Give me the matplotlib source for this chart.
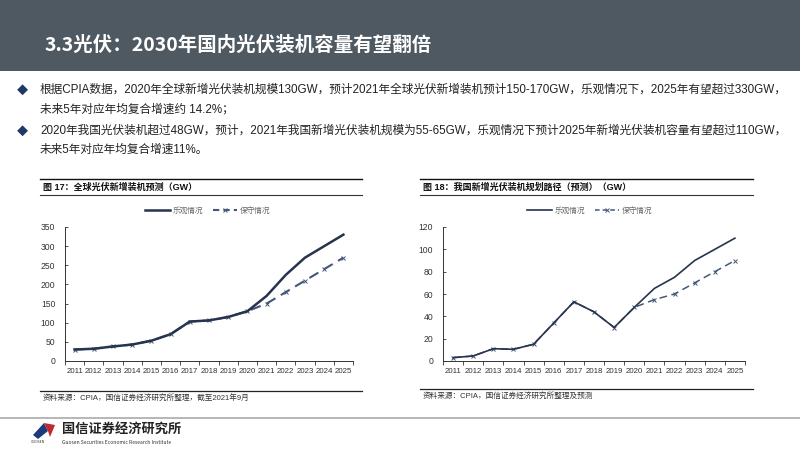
import matplotlib
matplotlib.use("Agg")
import matplotlib.pyplot as plt
from matplotlib.lines import Line2D
from matplotlib.patches import Rectangle, Polygon

plt.rcParams['font.family'] = ['Noto Sans CJK SC', 'DejaVu Sans']
MIXED = ['Liberation Sans', 'Noto Sans CJK SC', 'DejaVu Sans']

years = ['2011', '2012', '2013', '2014', '2015', '2016', '2017', '2018',
         '2019', '2020', '2021', '2022', '2023', '2024', '2025']

global_optimistic = [30, 32, 38, 43, 53, 70, 103, 106, 115, 130, 170, 225, 270, 300, 330]
global_conservative = [30, 32, 38, 43, 53, 70, 103, 106, 115, 130, 150, 180, 210, 240, 270]

china_optimistic = [3, 4.5, 11, 10.5, 15, 34, 53, 44, 30, 48, 65, 75, 90, 100, 110]
china_conservative = [3, 4.5, 11, 10.5, 15, 34, 53, 44, 30, 48, 55, 60, 70, 80, 90]

global_yticks = [0, 50, 100, 150, 200, 250, 300, 350]
china_yticks = [0, 20, 40, 60, 80, 100, 120]

legend_labels = ['乐观情况', '保守情况']

W, H = 800, 450
fig = plt.figure(figsize=(8, 4.5), dpi=100)
fig.patch.set_facecolor('white')


def fx(px):
    return px / W


def fy(py):
    return 1 - py / H


# header band
fig.patches.append(Rectangle((0, fy(71)), 1, 71 / H, transform=fig.transFigure,
                             facecolor='#4f5961', edgecolor='none', zorder=0))
fig.text(fx(45), fy(45), '3.3光伏：2030年国内光伏装机容量有望翻倍', color='white',
         fontsize=14, fontweight='bold', va='center', ha='left')

# bullets
bullet_color = '#1f3864'
text_color = '#222222'
lines = [
    (90, True, '根据CPIA数据，2020年全球新增光伏装机规模130GW，预计2021年全球光伏新增装机预计150-170GW，乐观情况下，2025年有望超过330GW，'),
    (109, False, '未来5年对应年均复合增速约 14.2%；'),
    (131, True, '2020年我国光伏装机超过48GW，预计，2021年我国新增光伏装机规模为55-65GW，乐观情况下预计2025年新增光伏装机容量有望超过110GW，'),
    (150, False, '未来5年对应年均复合增速11%。'),
]
for y, bullet, txt in lines:
    if bullet:
        fig.text(fx(22), fy(y), '◆', color=bullet_color, fontsize=8, va='center', ha='center')
    fig.text(fx(40), fy(y), txt, color=text_color, fontsize=8.4, va='center', ha='left',
             family=MIXED)


def panel(x_left_px, x_right_px, frame_l, frame_r, title, source, opt, cons, yticks,
          lw_opt, lw_cons, legend_cx, src_line_y):
    # title lines
    fig.add_artist(Line2D([fx(frame_l), fx(frame_r)], [fy(179), fy(179)], color='#111111', lw=1.0))
    fig.add_artist(Line2D([fx(frame_l), fx(frame_r)], [fy(195), fy(195)], color='#333333', lw=0.8))
    fig.text(fx(frame_l + 3), fy(187), title, fontsize=6.5, fontweight='bold',
             color='#111111', va='center', ha='left', family=MIXED)
    # source
    fig.add_artist(Line2D([fx(frame_l), fx(frame_r)], [fy(src_line_y), fy(src_line_y)],
                          color='#222222', lw=0.9))
    fig.text(fx(frame_l + 3), fy(src_line_y + 7), source, fontsize=5.5,
             color='#333333', va='center', ha='left', family=MIXED)

    ax = fig.add_axes([fx(x_left_px), fy(361), fx(x_right_px) - fx(x_left_px), (361 - 227) / H])
    x = list(range(len(years)))
    ax.plot(x, cons, color='#44567a', lw=lw_cons, dashes=(5, 3), marker='x',
            markersize=3.5, markeredgewidth=0.7, zorder=2)
    ax.plot(x, opt, color='#27344d', lw=lw_opt, zorder=3)
    ax.set_xlim(-0.5, len(years) - 0.5)
    ax.set_ylim(yticks[0], yticks[-1])
    ax.set_yticks(yticks)
    ax.set_yticklabels([str(v) for v in yticks], family='Liberation Sans')
    ax.set_xticks(x)
    ax.set_xticklabels(years, family='Liberation Sans')
    ax.set_xticks([i - 0.5 for i in range(len(years) + 1)], minor=True)
    ax.tick_params(axis='x', which='major', length=0, labelsize=5.7, colors='#333333', pad=5)
    ax.tick_params(axis='x', which='minor', length=3, direction='out', color='#333333', width=0.6)
    ax.tick_params(axis='y', which='major', length=2.5, direction='in', labelsize=6.2,
                   colors='#333333', width=0.6, pad=7)
    for s in ['top', 'right']:
        ax.spines[s].set_visible(False)
    for s in ['left', 'bottom']:
        ax.spines[s].set_color('#333333')
        ax.spines[s].set_linewidth(0.7)
    handles = [Line2D([], [], color='#27344d', lw=lw_opt),
               Line2D([], [], color='#44567a', lw=lw_cons, dashes=(3, 2), marker='x',
                      markersize=3, markeredgewidth=0.7)]
    fig.legend(handles, legend_labels, loc='center', bbox_to_anchor=(fx(legend_cx), fy(211)),
               ncol=2, frameon=False, fontsize=5.5, labelcolor='#666666',
               handlelength=3.2, columnspacing=1.2, handletextpad=0.4)
    return ax


panel(65, 353, 40, 362, '图 17：全球光伏新增装机预测（GW）',
      '资料来源：CPIA，国信证券经济研究所整理，截至2021年9月',
      global_optimistic, global_conservative, global_yticks, 1.8, 1.5, 208, 391)
panel(443, 745, 420, 753, '图 18：我国新增光伏装机规划路径（预测）（GW）',
      '资料来源：CPIA，国信证券经济研究所整理及预测',
      china_optimistic, china_conservative, china_yticks, 1.2, 1.1, 590, 389)

# footer
fig.add_artist(Line2D([0, 1], [fy(418), fy(418)], color='#aaaaaa', lw=1.2))
fig.patches.append(Polygon([[fx(33), fy(435)], [fx(44), fy(423)], [fx(48), fy(431)], [fx(38), fy(439)]],
                           closed=True, transform=fig.transFigure, facecolor='#1f3a7a', edgecolor='none'))
fig.patches.append(Polygon([[fx(44), fy(423)], [fx(55), fy(425)], [fx(50), fy(437)], [fx(48), fy(431)]],
                           closed=True, transform=fig.transFigure, facecolor='#c0282d', edgecolor='none'))
fig.text(fx(31), fy(442), 'GUOSEN', fontsize=2.5, color='#333333', va='center', ha='left')
fig.text(fx(62), fy(429), '国信证券经济研究所', fontsize=9.5, fontweight='bold',
         color='#222222', va='center', ha='left')
fig.text(fx(62), fy(442), 'Guosen Securities Economic Research Institute', fontsize=3.6,
         color='#333333', va='center', ha='left')

fig.savefig('out.png', dpi=100)
